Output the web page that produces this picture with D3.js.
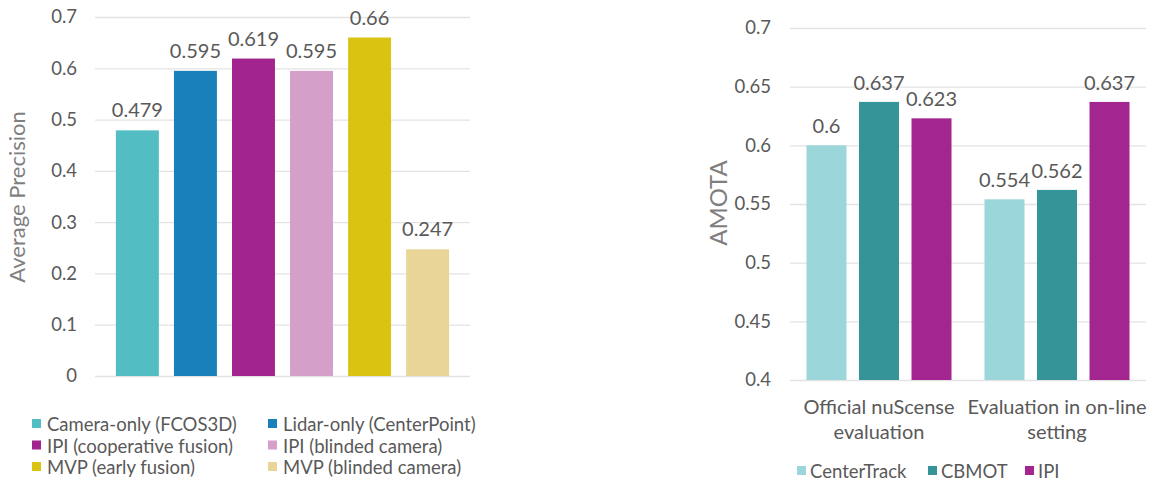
<!DOCTYPE html>
<html><head><meta charset="utf-8">
<script src="https://cdn.jsdelivr.net/npm/d3@7"></script>
<style>body{margin:0;background:#fff}svg{display:block}text{font-family:Lato,"Open Sans",sans-serif}</style>
</head><body><svg id="c" width="1149" height="481"></svg>
<script>
// Left chart data
const apMethods = ["Camera-only (FCOS3D)","Lidar-only (CenterPoint)","IPI (cooperative fusion)","IPI (blinded camera)","MVP (early fusion)","MVP (blinded camera)"];
const apValues = [0.479,0.595,0.619,0.595,0.66,0.247];
const apColors = ["#53BDC4","#1A80BB","#A2258F","#D49FC8","#DAC411","#E8D597"];
const apTicks = [0,0.1,0.2,0.3,0.4,0.5,0.6,0.7];
// Right chart data
const settings = [["Official nuScense","evaluation"],["Evaluation in on-line","setting"]];
const trackers = ["CenterTrack","CBMOT","IPI"];
const amotaValues = [[0.6,0.637,0.623],[0.554,0.562,0.637]];
const trColors = ["#9AD6DA","#359497","#A3258F"];
const amotaTicks = [0.4,0.45,0.5,0.55,0.6,0.65,0.7];

const svg = d3.select("#c");
const txt = "#595959", grid = "#E3E3E3";

// ---- Left chart ----
{
  const L = {x0:95,x1:470,y0:376,y1:17};
  const y = d3.scaleLinear().domain([0,0.7]).range([L.y0,L.y1]);
  const x = d3.scaleBand().domain(apMethods).range([L.x0,L.x1]).paddingInner(0.26).paddingOuter(0.36);
  const g = svg.append("g");
  const ax = g.append("g").attr("transform",`translate(${L.x0},0)`)
    .call(d3.axisLeft(y).tickValues(apTicks).tickSize(-(L.x1-L.x0)).tickPadding(18).tickFormat(d=>d===0?"0":d3.format("")(+d.toFixed(2))));
  ax.select(".domain").remove();
  ax.selectAll("line").attr("stroke",grid).attr("stroke-width",1.3);
  ax.selectAll("text").attr("fill",txt).style("font-size","18.5px");
  g.selectAll("rect.b").data(apMethods).join("rect").attr("class","b")
    .attr("x",d=>x(d)).attr("width",x.bandwidth())
    .attr("y",(d,i)=>y(apValues[i])).attr("height",(d,i)=>y(0)-y(apValues[i]))
    .attr("fill",(d,i)=>apColors[i]);
  g.selectAll("text.v").data(apMethods).join("text").attr("class","v")
    .attr("x",d=>x(d)+x.bandwidth()/2).attr("y",(d,i)=>y(apValues[i])-13)
    .attr("text-anchor","middle").attr("fill",txt).style("font-size","20px")
    .text((d,i)=>apValues[i]);
  g.append("text").attr("transform","translate(25,197) rotate(-90)").attr("text-anchor","middle")
    .attr("fill","#7F7F7F").style("font-size","22px").text("Average Precision");
  const lg = g.selectAll("g.lg").data(apMethods).join("g").attr("class","lg")
    .attr("transform",(d,i)=>`translate(${i%2===0?32:268},${425+Math.floor(i/2)*21.5})`);
  lg.append("rect").attr("x",0).attr("y",-6).attr("width",9).attr("height",9).attr("fill",(d,i)=>apColors[i]);
  lg.append("text").attr("x",15).attr("y",0).attr("dy","0.35em").attr("fill",txt).style("font-size","18.5px").text(d=>d);
}

// ---- Right chart ----
{
  const R = {x0:790,x1:1146,y0:380,y1:28};
  const y = d3.scaleLinear().domain([0.4,0.7]).range([R.y0,R.y1]);
  const x0 = d3.scaleBand().domain(d3.range(settings.length)).range([R.x0,R.x1]).padding(0);
  const x1 = d3.scaleBand().domain(trackers).range([0,x0.bandwidth()]).paddingInner(0.238).paddingOuter(0.314);
  const g = svg.append("g");
  const ax = g.append("g").attr("transform",`translate(${R.x0},0)`)
    .call(d3.axisLeft(y).tickValues(amotaTicks).tickSize(-(R.x1-R.x0)).tickPadding(19).tickFormat(d=>String(+d.toFixed(2))));
  ax.select(".domain").remove();
  ax.selectAll("line").attr("stroke",grid).attr("stroke-width",1.3);
  ax.selectAll("text").attr("fill",txt).style("font-size","18.5px");
  const gg = g.selectAll("g.grp").data(settings).join("g").attr("class","grp")
    .attr("transform",(d,i)=>`translate(${x0(i)},0)`);
  gg.selectAll("rect").data((d,i)=>trackers.map((t,j)=>({t,v:amotaValues[i][j],j}))).join("rect")
    .attr("x",d=>x1(d.t)).attr("width",x1.bandwidth())
    .attr("y",d=>y(d.v)).attr("height",d=>y(0.4)-y(d.v)).attr("fill",d=>trColors[d.j]);
  gg.selectAll("text.v").data((d,i)=>trackers.map((t,j)=>({t,v:amotaValues[i][j],j}))).join("text").attr("class","v")
    .attr("x",d=>x1(d.t)+x1.bandwidth()/2).attr("y",d=>y(d.v)-12)
    .attr("text-anchor","middle").attr("fill",txt).style("font-size","20px").text(d=>d.v);
  gg.append("text").attr("x",x0.bandwidth()/2).attr("y",414).attr("text-anchor","middle")
    .attr("fill",txt).style("font-size","20px")
    .selectAll("tspan").data(d=>d).join("tspan").attr("x",x0.bandwidth()/2).attr("dy",(d,i)=>i?25:0).text(d=>d);
  g.append("text").attr("transform","translate(727,203) rotate(-90)").attr("text-anchor","middle")
    .attr("fill","#7F7F7F").style("font-size","24px").text("AMOTA");
  const lx = [797,928,1025];
  const lg = g.selectAll("g.lg").data(trackers).join("g").attr("class","lg")
    .attr("transform",(d,i)=>`translate(${lx[i]},472)`);
  lg.append("rect").attr("x",0).attr("y",-6).attr("width",9).attr("height",9).attr("fill",(d,i)=>trColors[i]);
  lg.append("text").attr("x",13).attr("y",0).attr("dy","0.35em").attr("fill",txt).style("font-size","18.5px").text(d=>d);
}
</script></body></html>
